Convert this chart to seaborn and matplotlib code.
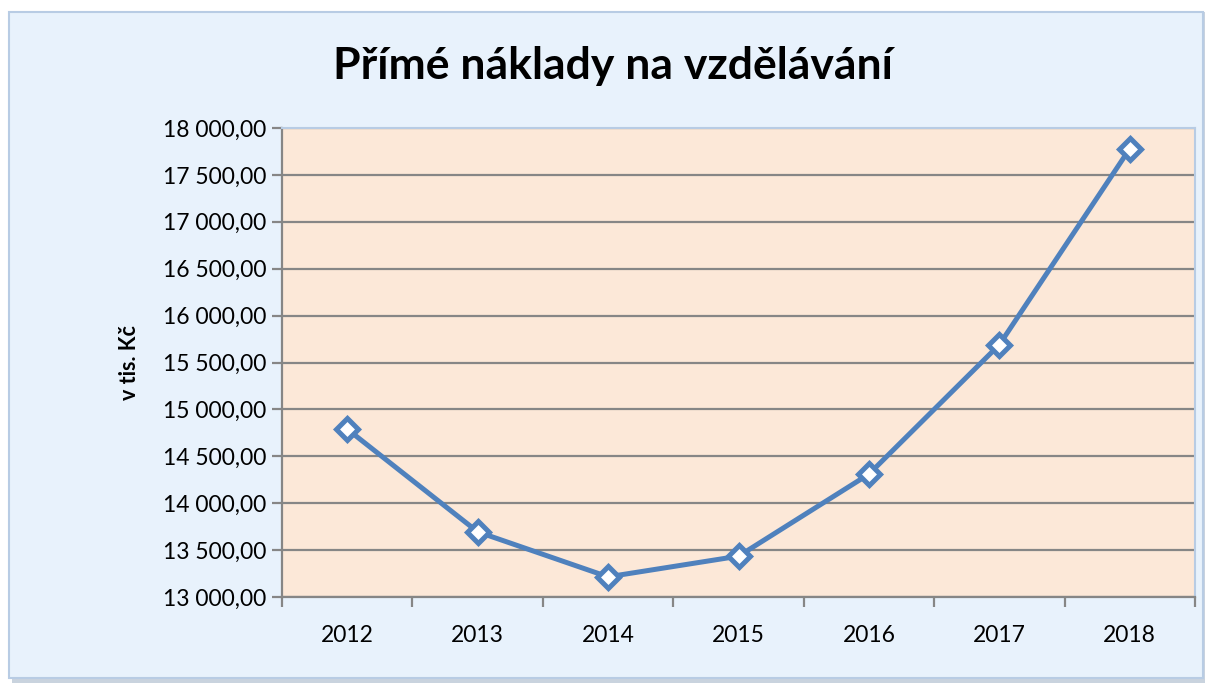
import matplotlib
matplotlib.use('Agg')
import matplotlib.pyplot as plt
import matplotlib.ticker as mticker
from matplotlib.patches import Rectangle
import pandas as pd
import seaborn as sns

# Data (v tis. Kč)
years = ['2012', '2013', '2014', '2015', '2016', '2017', '2018']
costs = [14790, 13695, 13215, 13435, 14310, 15690, 17780]
y_ticks = list(range(13000, 18001, 500))

df = pd.DataFrame({'rok': years, 'naklady': costs})

sns.set_theme(style='white')
plt.rcParams['font.family'] = ['Lato', 'DejaVu Sans']

fig = plt.figure(figsize=(12.05, 6.83), dpi=100)
fig.patch.set_facecolor('white')

# Excel-like chart panel with a soft shadow (kept behind the axes)
fig.patches.append(Rectangle((12 / 1205, 0), 1193 / 1205, 671 / 683, transform=fig.transFigure,
                             facecolor='#C9D3DE', edgecolor='none', zorder=-3))
fig.patches.append(Rectangle((9 / 1205, 5 / 683), 1194 / 1205, 666 / 683, transform=fig.transFigure,
                             facecolor='#E8F2FC', edgecolor='#B8CCE4', linewidth=1.5, zorder=-2))

ax = fig.add_axes([282 / 1205, 86 / 683, 913 / 1205, 469 / 683])
ax.set_facecolor('#FCE8D8')

sns.lineplot(data=df, x='rok', y='naklady', ax=ax, color='#4F81BD', linewidth=3.6,
             marker='D', markersize=11.5, markerfacecolor='white', markeredgecolor='#4F81BD',
             markeredgewidth=3.6, zorder=5)

ax.set_ylim(13000, 18000)
ax.set_xlim(-0.5, len(years) - 0.5)
ax.set_yticks(y_ticks)
ax.yaxis.set_major_formatter(mticker.FuncFormatter(
    lambda v, p: f'{v:,.2f}'.replace(',', ' ').replace('.', ',')))
ax.grid(axis='y', color='#868686', linewidth=1.6)
ax.set_axisbelow(True)

# category boundaries get the tick marks, labels sit in the middle
ax.set_xticks(range(len(years)))
ax.set_xticklabels(years)
ax.set_xticks([i - 0.5 for i in range(len(years) + 1)], minor=True)
ax.tick_params(axis='x', which='major', length=0, pad=20, labelsize=16.5, labelcolor='black')
ax.tick_params(axis='x', which='minor', length=7, width=1.6, color='#868686', direction='out', bottom=True)
ax.tick_params(axis='y', which='major', length=7, width=1.6, color='#868686', direction='out',
               left=True, labelsize=16.5, pad=4, labelcolor='black')

for side in ['left', 'bottom']:
    ax.spines[side].set_color('#868686')
    ax.spines[side].set_linewidth(1.6)
for side in ['top', 'right']:
    ax.spines[side].set_color('#B8CCE4')
    ax.spines[side].set_linewidth(1.5)

ax.set_xlabel('')
ax.set_ylabel('v tis. Kč', fontsize=15.5, fontweight='bold', labelpad=17, color='black')
fig.text(613 / 1205, 1 - 66 / 683, 'Přímé náklady na vzdělávání', ha='center', va='center',
         fontsize=32, fontweight='bold', color='black')

fig.savefig('out.png', dpi=100)
